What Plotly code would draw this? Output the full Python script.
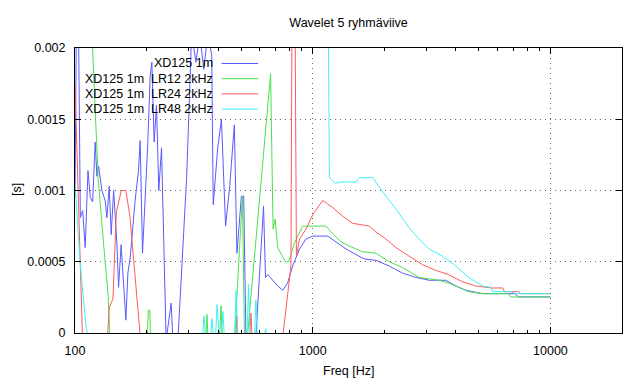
import math
import plotly.graph_objects as go

# ---------------- data (Hz, seconds) ----------------
freq_xd125 = [100, 101.5, 103.4, 105.3, 107.7, 110.4, 113.4, 116, 118.6, 121.6, 123.6, 125.7,
              129.8, 133.9, 136.2, 139.3, 142, 145.4, 150, 152.5, 156.3, 160, 163.7, 166.9,
              170.7, 174.6, 179, 185, 188, 192.3, 197.2, 202.4, 207.1, 210.5, 215.3, 220.2,
              225.2, 231.2, 241.7, 253.8, 259, 270, 295, 309.4, 322.7, 335, 348, 362, 376,
              381.5, 398.5, 413, 430, 447.5, 468, 480, 501, 512.5, 524, 577, 621, 633, 647,
              713, 748, 784, 823, 880, 938, 1000, 1156, 1253, 1380, 1520, 1648, 1845, 2098,
              2388, 2718, 3090, 3630, 4000, 4400, 5170, 7070, 7350, 10000]
val_xd125 = [0.00095, 0.0023, 0.0022, 0.00081, 0.00086, 0.0006, 0.00114, 0.00095, 0.00092,
             0.00134, 0.0011, 0.00117, 0.001, 0.00093, 0.00081, 0.00103, 0.00069, 0.001,
             0.00063, 0.00032, 0.00062, 0.00035, 0.00009, 0.00042, 0.00053, 0.00072, 0.00093,
             0.00114, 0.00135, 0.00056, 0.00095, 0.00133, 0.0018, 0.0019, 0.00134, 0.0016,
             0.001, 0.0013, -0.00005, 0.00021, -0.0001, -0.0001, 0.0011, 0.0021, 0.0019,
             0.0021, 0.00185, 0.0021, 0.00195, 0.0009, 0.0013, 0.0015, 0.00075, 0.00103,
             0.00146, 0.00056, 0.00096, 0.00096, -0.00005, -0.00002, 0.00089, 0.00039,
             0.00041, 0.00033, 0.0003, 0.00035, 0.00047, 0.00059, 0.00066, 0.00068, 0.00068,
             0.00064, 0.00059, 0.00055, 0.00052, 0.00051, 0.00047, 0.00042, 0.00039, 0.00037,
             0.00037, 0.00033, 0.0003, 0.000276, 0.000276, 0.000253, 0.000253]

freq_lr12 = [100, 113.4, 117.8, 121.3, 125.2, 132.3, 137.9, 140.2, 200.6, 203.6, 206.4, 208.4,
             354.4, 359, 363, 405.5, 411.5, 417, 470, 506, 516.5, 531.6, 596, 665, 681, 695,
             712, 735, 768, 793, 837, 907, 1137, 1194, 1315, 1426, 1621, 1845, 2098, 2388,
             2806, 3404, 3730, 4120, 4530, 5170, 6670, 6800, 10000]
val_lr12 = [0.0026, 0.0024, 0.0021, 0.00165, 0.00108, 0.0006, 0.00026, -0.00003, -0.0001,
            0.00016, 0.00016, -0.0001, -0.00005, 0.00013, -0.00005, -0.00005, 0.00019,
            -0.00005, -0.00002, 0.00096, -0.00003, -0.00002, 0.00089, 0.00182, 0.00073,
            0.0008, 0.0006, 0.00056, 0.0005, 0.0005, 0.00063, 0.00075, 0.00075, 0.00071,
            0.00064, 0.00061, 0.00057, 0.00056, 0.0005, 0.00046, 0.00039, 0.00037, 0.00035,
            0.00032, 0.00029, 0.000276, 0.000276, 0.000253, 0.000253]

freq_lr24 = [100, 104.9, 107.5, 137, 139.3, 144.4, 149.3, 156.6, 163.7, 170.2, 176, 188.3,
             475, 479.5, 484, 542.6, 549.5, 556, 749, 810, 819, 841, 854, 880, 938, 1000,
             1101, 1214, 1336, 1470, 1730, 1845, 2030, 2240, 2540, 2890, 3290, 3730, 4260,
             4850, 5660, 6300, 6400, 7350, 7500, 10000]
val_lr24 = [0.00175, 0.00055, -0.00003, -0.00003, 0.00018, 0.00024, 0.00085, 0.001, 0.001,
            0.00082, 0.00052, -0.00003, -0.00003, 0.00012, -0.00003, -0.00003, 0.00014,
            -0.00003, -0.00002, 0.00047, 0.0025, 0.0025, 0.00054, 0.00066, 0.00073, 0.00083,
            0.00093, 0.00088, 0.00082, 0.00077, 0.00075, 0.00071, 0.00066, 0.0006, 0.00054,
            0.00048, 0.00044, 0.00041, 0.00036, 0.00033, 0.000316, 0.000316, 0.00029,
            0.00029, 0.000276, 0.000276]

freq_lr48 = [100, 105, 111.2, 113.4, 344, 349, 354, 372, 377, 383, 390, 396, 405, 413, 419,
             425, 469, 476, 484, 529, 537, 545, 569, 577, 585, 626, 634, 641, 700, None,
             1160, 1175, 1245, 1315, 1520, 1570, 1790, 1970, 2240, 2540, 2800, 3090, 3510,
             4000, 4530, 5170, 5650, 5700, 6900, 7100, 10000]
val_lr48 = [0.00105, 0.0005, 0.00005, -0.00003, -0.00003, 0.00012, -0.00003, -0.00003,
            0.0001, -0.00003, -0.00003, 0.0002, -0.00003, -0.00003, 0.00015, -0.00003,
            -0.00003, 0.0003, -0.00003, -0.00003, 0.00034, -0.00003, -0.00003, 0.00023,
            -0.00003, -0.00003, 0.00003, -0.00003, -0.00005, None, 0.0025, 0.00109, 0.00105,
            0.00106, 0.00106, 0.00109, 0.00109, 0.00099, 0.00087, 0.00074, 0.00066, 0.00059,
            0.00054, 0.00047, 0.00039, 0.00033, 0.00032, 0.00029, 0.00029, 0.000276, 0.000276]

series_names = ["XD125 1m", "XD125 1m\u00a0 LR12 2kHz", "XD125 1m\u00a0 LR24 2kHz",
                "XD125 1m\u00a0 LR48 2kHz"]
series_colors = ["#5a5aff", "#4ce04c", "#ff5a5a", "#3cf2f2"]

x_ticks = [100, 1000, 10000]
x_tick_labels = ["100", "1000", "10000"]
x_minor = [200, 300, 400, 500, 600, 700, 800, 900,
           2000, 3000, 4000, 5000, 6000, 7000, 8000, 9000, 20000]
y_ticks = [0, 0.0005, 0.001, 0.0015, 0.002]
y_tick_labels = ["0", "0.0005", "0.001", "0.0015", "0.002"]

title_text = "Wavelet 5 ryhmäviive"
x_title = "Freq [Hz]"
y_title = "[s]"

# ---------------- figure ----------------
# The page body has an 8px default margin, so the figure is sized to end at the window edge.
FONT = "Liberation Sans, Arial, sans-serif"
W, H = 632, 376
fig = go.Figure()
data = [(freq_xd125, val_xd125), (freq_lr12, val_lr12), (freq_lr24, val_lr24), (freq_lr48, val_lr48)]
for (f, v), name, col in zip(data, series_names, series_colors):
    fig.add_trace(go.Scatter(x=f, y=v, mode="lines", name=name, connectgaps=False,
                             line=dict(color=col, width=1), hoverinfo="skip", showlegend=False))

fig.update_layout(
    width=W, height=H,
    margin=dict(l=67, r=18, t=40, b=51),
    paper_bgcolor="white", plot_bgcolor="white",
    font=dict(family=FONT, size=12.5, color="black"),
    showlegend=False,
    title=dict(text=title_text, x=0.5, xref="paper", xanchor="center",
               y=1 - 15 / H, yref="container", yanchor="middle",
               font=dict(family=FONT, size=12.5, color="black")),
)

grid = dict(showgrid=True, gridcolor="#6a6a6a", griddash="1px,4px", gridwidth=1)
fig.update_xaxes(type="log", range=[2, math.log10(20000)],
                 tickmode="array", tickvals=x_ticks, ticktext=x_tick_labels,
                 ticks="inside", ticklen=6, tickcolor="black", tickwidth=1,
                 showline=True, linecolor="black", linewidth=1, mirror="ticks",
                 zeroline=False, ticklabelstandoff=6,
                 minor=dict(tickvals=x_minor, ticks="inside", ticklen=3,
                            tickcolor="black", tickwidth=1, showgrid=False),
                 **grid)
fig.update_yaxes(range=[0, 0.002],
                 tickmode="array", tickvals=y_ticks, ticktext=y_tick_labels,
                 ticks="inside", ticklen=6, tickcolor="black", tickwidth=1,
                 showline=True, linecolor="black", linewidth=1, mirror="ticks",
                 zeroline=False, ticklabelstandoff=6, **grid)

# axis titles
fig.add_annotation(text=x_title, xref="paper", yref="paper", x=0.5, y=-38 / 285,
                   xanchor="center", yanchor="middle", showarrow=False,
                   font=dict(family=FONT, size=12.5, color="black"))
fig.add_annotation(text=y_title, xref="paper", yref="paper", x=-58 / 547, y=0.502,
                   xanchor="center", yanchor="middle", showarrow=False, textangle=-90,
                   font=dict(family=FONT, size=12.5, color="black"))

# gnuplot-style key: right-aligned labels with line samples to their right
for i, (name, col) in enumerate(zip(series_names, series_colors)):
    yk = (333 - (63.5 + 15.2 * i)) / 285
    fig.add_annotation(text=name, xref="paper", yref="paper", x=0.256, y=yk,
                       xanchor="right", yanchor="middle", showarrow=False,
                       font=dict(family=FONT, size=12.5, color="black"))
    fig.add_shape(type="line", xref="paper", yref="paper", x0=0.268, x1=0.335, y0=yk, y1=yk,
                  line=dict(color=col, width=1))

fig.write_html("out.html")
